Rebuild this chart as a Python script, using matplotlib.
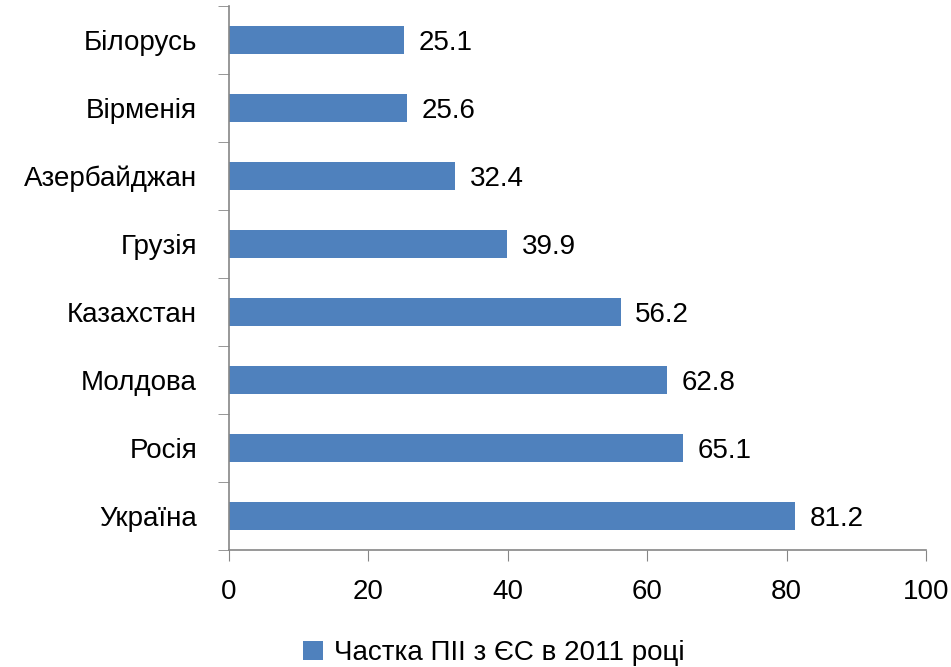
import matplotlib
matplotlib.use("Agg")
import matplotlib.pyplot as plt
from matplotlib.patches import Patch

countries = ['Україна', 'Росія', 'Молдова', 'Казахстан', 'Грузія', 'Азербайджан', 'Вірменія', 'Білорусь']
values = [81.2, 65.1, 62.8, 56.2, 39.9, 32.4, 25.6, 25.1]
xticks = [0, 20, 40, 60, 80, 100]
legend_label = 'Частка ПІІ з ЄС в 2011 році'

color = '#4F81BD'
fs = 20
plt.rcParams['font.family'] = ['Liberation Sans', 'DejaVu Sans']

fig = plt.figure(figsize=(9.51, 6.67), dpi=100)
ax = fig.add_axes([229 / 951, 1 - 550 / 667, (926 - 229) / 951, 544 / 667])

pos = list(range(len(countries)))
ax.barh(pos, values, height=0.4, color=color, zorder=2)
for p, v in zip(pos, values):
    ax.text(v + 2.1, p - 0.04, f'{v:.1f}', va='center', ha='left', fontsize=fs)

ax.set_xlim(0, 100)
ax.set_ylim(-0.5, len(countries) - 0.5)
ax.set_xticks(xticks)
ax.set_xticklabels([str(t) for t in xticks], fontsize=fs)
ax.set_yticks(pos)
ax.set_yticklabels(countries, fontsize=fs)
ax.set_yticks([p - 0.5 for p in range(len(countries) + 1)], minor=True)
ax.tick_params(axis='y', which='major', length=0, pad=23)
ax.tick_params(axis='y', which='minor', length=8, color='#868686', direction='out')
ax.tick_params(axis='x', length=8, color='#868686', direction='out', pad=13)

for s in ['top', 'right']:
    ax.spines[s].set_visible(False)
for s in ['left', 'bottom']:
    ax.spines[s].set_color('#868686')
    ax.spines[s].set_linewidth(1.2)

fig.legend(handles=[Patch(facecolor=color, label=legend_label)], loc='center',
           bbox_to_anchor=(494 / 951, 1 - 653 / 667), frameon=False, fontsize=fs,
           handlelength=0.7, handleheight=0.7, handletextpad=0.4)

fig.savefig('out.png', dpi=100)
